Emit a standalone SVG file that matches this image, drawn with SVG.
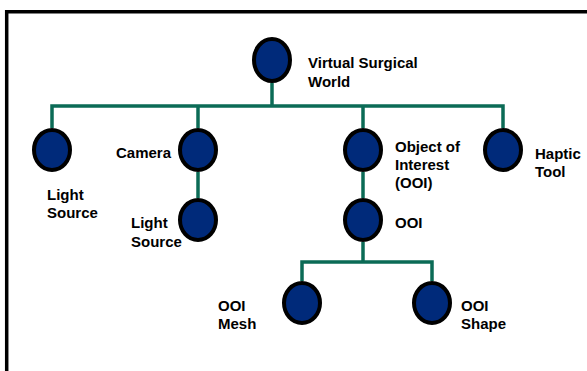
<svg xmlns="http://www.w3.org/2000/svg" width="587" height="371" viewBox="0 0 587 371">
<style>
.node{fill:#002a7a;stroke:#000;stroke-width:4}
.conn{fill:none;stroke:#0b6b56;stroke-width:3.5;stroke-linejoin:miter}
.lbl{font-family:"Liberation Sans",Arial,sans-serif;font-size:15px;font-weight:bold;fill:#000}
.frame{fill:none;stroke:#000;stroke-width:3.5}
</style>
<rect width="587" height="371" fill="#fff"/>
<path class="frame" d="M6.7 371 V11.7 H587"/>
<g id="connectors">
<path class="conn" d="M272 83 V106"/>
<path class="conn" d="M52 128 V106 H503 V128"/>
<path class="conn" d="M198 106 V128"/>
<path class="conn" d="M363 106 V128"/>
<path class="conn" d="M198 172 V198"/>
<path class="conn" d="M363 172 V198"/>
<path class="conn" d="M363 242 V262"/>
<path class="conn" d="M302 281 V262 H432 V281"/>
</g>
<g id="virtual-surgical-world">
<ellipse class="node" cx="272" cy="60" rx="18" ry="21"/>
<text class="lbl" x="308" y="68">Virtual Surgical</text>
<text class="lbl" x="308" y="87">World</text>
</g>
<g id="light-source-1">
<ellipse class="node" cx="52" cy="150" rx="18" ry="20"/>
<text class="lbl" x="47" y="200">Light</text>
<text class="lbl" x="47" y="218">Source</text>
</g>
<g id="camera">
<ellipse class="node" cx="198" cy="150" rx="18" ry="20"/>
<text class="lbl" x="171" y="158" text-anchor="end">Camera</text>
</g>
<g id="light-source-2">
<ellipse class="node" cx="198" cy="220" rx="18" ry="20"/>
<text class="lbl" x="131" y="228">Light</text>
<text class="lbl" x="131" y="247">Source</text>
</g>
<g id="object-of-interest">
<ellipse class="node" cx="363" cy="150" rx="18" ry="20"/>
<text class="lbl" x="395" y="152">Object of</text>
<text class="lbl" x="395" y="170">Interest</text>
<text class="lbl" x="395" y="188">(OOI)</text>
</g>
<g id="haptic-tool">
<ellipse class="node" cx="503" cy="150" rx="18" ry="20"/>
<text class="lbl" x="535" y="159">Haptic</text>
<text class="lbl" x="535" y="177">Tool</text>
</g>
<g id="ooi">
<ellipse class="node" cx="363" cy="220" rx="18" ry="20"/>
<text class="lbl" x="395" y="228">OOI</text>
</g>
<g id="ooi-mesh">
<ellipse class="node" cx="302" cy="303" rx="18" ry="20"/>
<text class="lbl" x="218" y="311">OOI</text>
<text class="lbl" x="218" y="329">Mesh</text>
</g>
<g id="ooi-shape">
<ellipse class="node" cx="432" cy="303" rx="18" ry="20"/>
<text class="lbl" x="461" y="311">OOI</text>
<text class="lbl" x="461" y="329">Shape</text>
</g>
</svg>
